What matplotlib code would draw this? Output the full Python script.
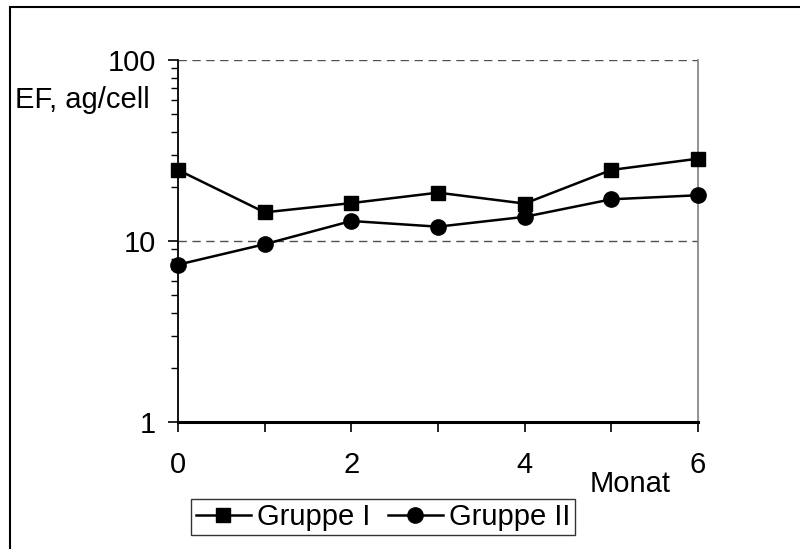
import matplotlib
matplotlib.use('agg')
import matplotlib.pyplot as plt
from matplotlib.patches import Rectangle
from matplotlib.ticker import MultipleLocator, LogLocator, NullFormatter, FixedFormatter, FixedLocator

plt.rcParams['font.family'] = ['Liberation Sans', 'DejaVu Sans']

monat = [0, 1, 2, 3, 4, 5, 6]
gruppe_1 = [24.7, 14.4, 16.2, 18.5, 16.1, 24.7, 28.5]
gruppe_2 = [7.4, 9.6, 12.9, 12.0, 13.6, 17.0, 17.9]

fs = 21

fig = plt.figure(figsize=(8, 5.49), dpi=100)
ax = fig.add_axes([0.2225, 0.2313, 0.65, 0.6594])

ax.plot(monat, gruppe_1, color='black', lw=1.8, marker='s', ms=10.5,
        label='Gruppe I', clip_on=False, zorder=4)
ax.plot(monat, gruppe_2, color='black', lw=1.8, marker='o', ms=11,
        label='Gruppe II', clip_on=False, zorder=4)

ax.set_yscale('log')
ax.set_ylim(1, 100)
ax.set_xlim(0, 6)

# dashed gridlines at the decades
for v in [10, 100]:
    ax.axhline(v, color='#505050', lw=1.0, ls=(0, (6, 4)), zorder=1)

ax.yaxis.set_major_locator(FixedLocator([1, 10, 100]))
ax.yaxis.set_major_formatter(FixedFormatter(['1', '10', '100']))
ax.yaxis.set_minor_locator(LogLocator(base=10, subs=range(2, 10)))
ax.yaxis.set_minor_formatter(NullFormatter())

ax.xaxis.set_major_locator(MultipleLocator(2))
ax.xaxis.set_minor_locator(MultipleLocator(1))

ax.tick_params(axis='y', which='major', direction='out', length=7, width=1.2,
               labelsize=fs, pad=9)
ax.tick_params(axis='y', which='minor', direction='out', length=5, width=1.0)
ax.tick_params(axis='x', which='both', direction='out', length=7, width=1.2,
               labelsize=fs, pad=14)

ax.spines['top'].set_visible(False)
ax.spines['right'].set_color('#808080')
ax.spines['right'].set_linewidth(1.2)
ax.spines['left'].set_linewidth(1.3)
ax.spines['bottom'].set_linewidth(2.2)

fig.text(15 / 800, 1 - 100 / 549, 'EF, ag/cell', fontsize=fs,
         ha='left', va='center')
fig.text(630 / 800, 1 - 484 / 549, 'Monat', fontsize=fs,
         ha='center', va='center')

leg = fig.legend(loc='center', bbox_to_anchor=(383 / 800, 1 - 517 / 549),
                 ncol=2, fontsize=fs, frameon=True, fancybox=False,
                 edgecolor='black', handlelength=1.9, handletextpad=0.2,
                 columnspacing=0.6, borderpad=0.15, borderaxespad=0)
leg.get_frame().set_linewidth(1.0)

# outer frame of the chart area
fig.patches.append(Rectangle((10 / 800, -0.5), 1.5, 0.5 + 1 - 7 / 549,
                             transform=fig.transFigure, fill=False,
                             edgecolor='black', lw=1.5))

fig.savefig('out.png', dpi=100)
